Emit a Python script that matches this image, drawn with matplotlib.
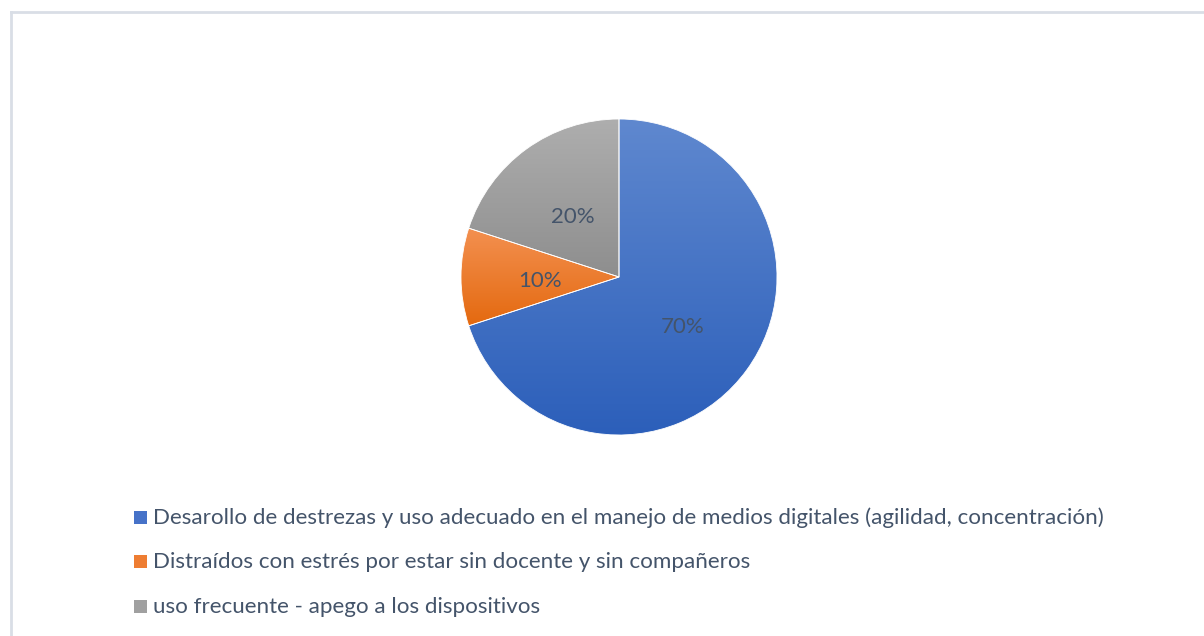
import matplotlib.pyplot as plt
import numpy as np
from matplotlib.patches import Rectangle
from matplotlib.lines import Line2D
from matplotlib.colors import LinearSegmentedColormap

labels = ['Desarollo de destrezas y uso adecuado en el manejo de medios digitales (agilidad, concentración)',
          'Distraídos con estrés por estar sin docente y sin compañeros',
          'uso frecuente - apego a los dispositivos']
values = [70, 10, 20]
# top / bottom gradient colours for each slice
top_colors = ['#5F88CF', '#F39050', '#AEAEAE']
bottom_colors = ['#2C5FBA', '#E4690F', '#8E8E8E']
legend_colors = ['#4672C8', '#EE7D32', '#A0A0A0']
text_color = '#44546A'

plt.rcParams['font.family'] = ['Lato', 'DejaVu Sans']

W, H = 1204, 636
fig = plt.figure(figsize=(W / 100, H / 100), dpi=100)

# chart frame (only top and left visible in crop)
fig.add_artist(Line2D([11 / W, 11 / W], [0, 1 - 12 / H], color='#D9DEE6', lw=2))
fig.add_artist(Line2D([11 / W, 1], [1 - 12 / H, 1 - 12 / H], color='#D9DEE6', lw=2))

cx, cy, r = 619, 277, 158
ax = fig.add_axes([(cx - r) / W, 1 - (cy + r) / H, 2 * r / W, 2 * r / H])
wedges, _ = ax.pie(values, startangle=90, counterclock=False, radius=1,
                   colors=top_colors,
                   wedgeprops=dict(edgecolor='white', linewidth=0.6))

# vertical gradient fill clipped to each wedge
grad = np.linspace(0, 1, 256).reshape(-1, 1)
for w, c0, c1 in zip(wedges, top_colors, bottom_colors):
    bb = w.get_path().get_extents(w.get_transform() - ax.transData)
    cmap = LinearSegmentedColormap.from_list('g', [c0, c1])
    im = ax.imshow(grad, cmap=cmap, aspect='auto', origin='upper',
                   extent=[bb.x0, bb.x1, bb.y0, bb.y1], zorder=1)
    im.set_clip_path(w)
    w.set_facecolor('none')
    w.set_zorder(2)
ax.set_xlim(-1, 1)
ax.set_ylim(-1, 1)
ax.set_aspect('equal')
ax.axis('off')

# percentage labels
ang = 90.0
for v in values:
    mid = np.deg2rad(ang - v * 360 / 100 / 2)
    ang -= v * 360 / 100
    ax.text(0.5 * np.cos(mid), 0.5 * np.sin(mid) - 0.025, '%d%%' % v,
            ha='center', va='center', fontsize=16, color=text_color, zorder=3)

# legend
rows_y = [518, 562, 607]
for lab, c, y in zip(labels, legend_colors, rows_y):
    fig.add_artist(Rectangle((134 / W, 1 - (y + 6) / H), 13 / W, 13 / H,
                             facecolor=c, edgecolor='none'))
    fig.text(153 / W, 1 - y / H, lab, ha='left', va='center',
             fontsize=16.1, color=text_color)

fig.savefig('out.png', dpi=100, facecolor='white')
